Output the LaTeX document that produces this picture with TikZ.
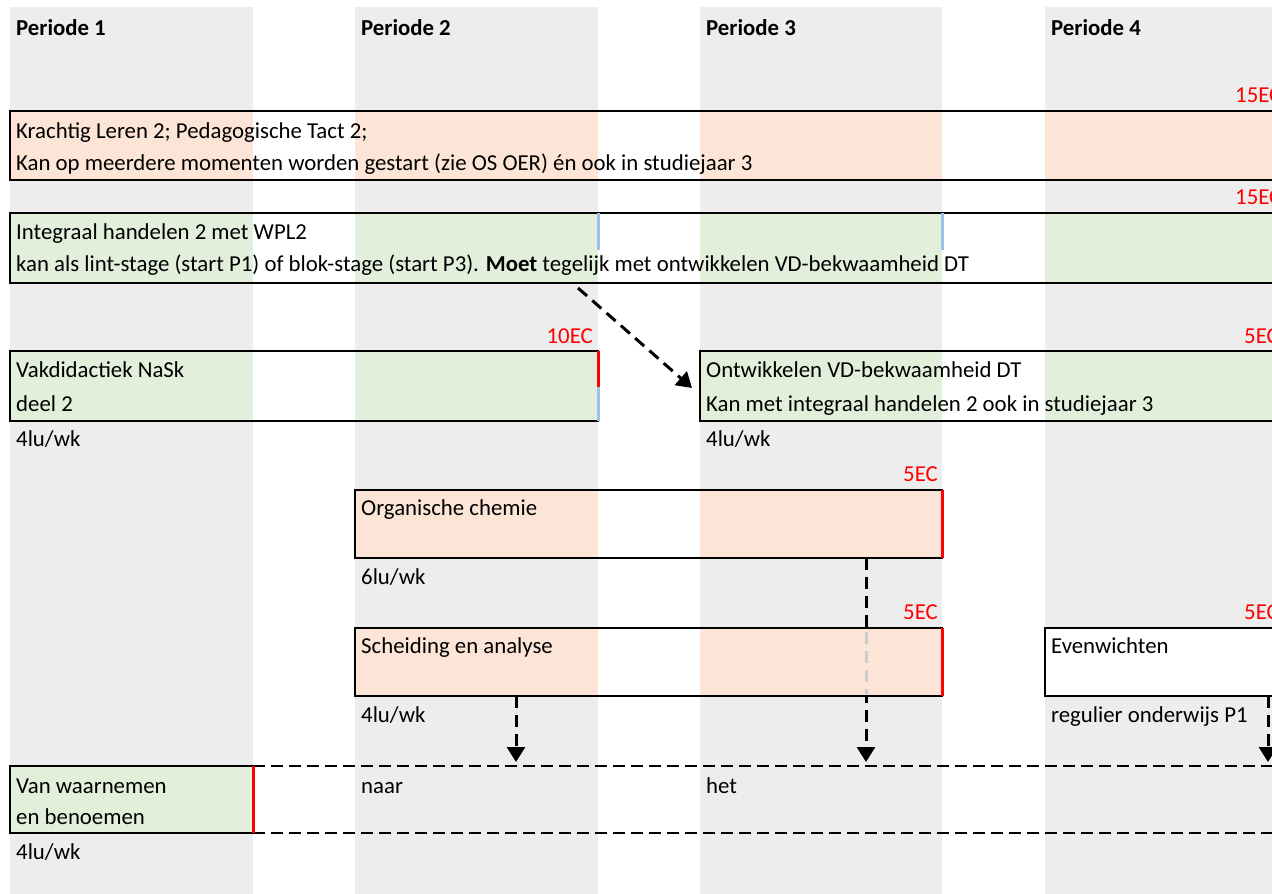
\documentclass[tikz,border=0pt]{standalone}
\usepackage{fontspec}
\setmainfont{Carlito}
\usetikzlibrary{arrows.meta,calc}
\definecolor{colgray}{HTML}{EDEDED}
\definecolor{peach}{HTML}{FCE4D6}
\definecolor{lgreen}{HTML}{E2EFDA}
\definecolor{lblue}{HTML}{9DC3E6}
\definecolor{ecred}{HTML}{FF0000}
\begin{document}
\begin{tikzpicture}[x=1pt,y=-1pt,
  txt/.style={anchor=base west, inner sep=0pt, font=\fontsize{22.8}{27}\selectfont},
  head/.style={txt, font=\fontsize{22.8}{27}\selectfont\bfseries},
  ec/.style={inner sep=0pt, font=\fontsize{22.8}{27}\selectfont, text=ecred},
  cell/.style={draw=black, line width=2.4pt, anchor=north west, inner sep=0pt, outer sep=0pt},
  dasharrow/.style={line width=3pt, dash pattern=on 12pt off 7pt, -{Triangle[width=18pt,length=15pt]}},
  dashline/.style={line width=2.6pt, dash pattern=on 12pt off 6pt},
  redge/.style={line width=3pt, ecred},
  bedge/.style={line width=3pt, lblue}]
\useasboundingbox (0,0) rectangle (1272,894);
\clip (0,0) rectangle (1272,894);
\fill[white] (0,0) rectangle (1272,894);
% period columns
\fill[colgray] (10,7) rectangle (253,894);
\fill[colgray] (355,7) rectangle (598,894);
\fill[colgray] (700,7) rectangle (942,894);
\fill[colgray] (1045,7) rectangle (1300,894);
% headers
\node[head] (p1) at (16,35) {Periode 1};
\node[head] (p2) at (361,35) {Periode 2};
\node[head] (p3) at (706,35) {Periode 3};
\node[head] (p4) at (1051,35) {Periode 4};

% box fills (column parts coloured, gaps white)
\fill[peach] (10,111) rectangle (253,180);
\fill[white] (253,111) rectangle (355,180);
\fill[peach] (355,111) rectangle (598,180);
\fill[white] (598,111) rectangle (700,180);
\fill[peach] (700,111) rectangle (942,180);
\fill[white] (942,111) rectangle (1045,180);
\fill[peach] (1045,111) rectangle (1300,180);

\fill[lgreen] (10,213) rectangle (253,283);
\fill[white] (253,213) rectangle (355,283);
\fill[lgreen] (355,213) rectangle (598,283);
\fill[white] (598,213) rectangle (700,283);
\fill[lgreen] (700,213) rectangle (942,283);
\fill[white] (942,213) rectangle (1045,283);
\fill[lgreen] (1045,213) rectangle (1300,283);

\fill[lgreen] (10,351) rectangle (253,421);
\fill[white] (253,351) rectangle (355,421);
\fill[lgreen] (355,351) rectangle (598,421);

\fill[lgreen] (700,351) rectangle (942,421);
\fill[white] (942,351) rectangle (1045,421);
\fill[lgreen] (1045,351) rectangle (1300,421);

\fill[peach] (355,490) rectangle (598,558);
\fill[white] (598,490) rectangle (700,558);
\fill[peach] (700,490) rectangle (942,558);

\fill[white] (1045,628) rectangle (1300,696);

\fill[lgreen] (10,766) rectangle (253,833);

% boxes (those running past the right edge are cut by the picture border)
\node[cell, minimum width=1290pt, minimum height=69pt] (kl) at (10,111) {};
\node[cell, minimum width=1290pt, minimum height=70pt] (ih) at (10,213) {};
\node[cell, minimum width=588pt, minimum height=70pt] (vd) at (10,351) {};
\node[cell, minimum width=600pt, minimum height=70pt] (ov) at (700,351) {};
\node[cell, minimum width=587pt, minimum height=68pt] (oc) at (355,490) {};
\node[cell, minimum width=255pt, minimum height=68pt] (ev) at (1045,628) {};
\node[cell, minimum width=243pt, minimum height=67pt] (vw) at (10,766) {};

% arrow end points
\coordinate (e1) at (866,762);
\coordinate (e2) at (516,762);
\coordinate (e3) at (1268,762);
\coordinate (r1) at (1300,766);
\coordinate (r2) at (1300,833);

% connector from Organische chemie, passing behind Scheiding en analyse
\draw[dasharrow] (oc.south -| e1) -- (e1);
\fill[peach] (355,628) rectangle (598,696);
\fill[white] (598,628) rectangle (700,696);
\fill[peach] (700,628) rectangle (942,696);
\draw[line width=3pt, dash pattern=on 12pt off 7pt, black!20] (866,632) -- (866,694);
\node[cell, minimum width=587pt, minimum height=68pt] (sa) at (355,628) {};

\draw[dasharrow] ([xshift=568pt,yshift=-5pt]ih.south west) -- ([xshift=-8pt,yshift=-2pt]ov.west);
\draw[dasharrow] (sa.south -| e2) -- (e2);
\draw[dasharrow] (ev.south -| e3) -- (e3);
\draw[dashline] (vw.north east) -- (r1);
\draw[dashline] (vw.south east) -- (r2);

% coloured right edges
\draw[bedge] (598,213) -- (598,250);
\draw[bedge] (942,213) -- (942,250);
\draw[redge] (vd.north east) -- ($(vd.north east)!0.52!(vd.south east)$);
\draw[bedge] ($(vd.north east)!0.52!(vd.south east)$) -- (vd.south east);
\draw[redge] (oc.north east) -- (oc.south east);
\draw[redge] (sa.north east) -- (sa.south east);
\draw[redge] (vw.north east) -- (vw.south east);

% EC labels
\node[ec, anchor=base west] (ec1) at (1235,102) {15EC};
\node[ec, anchor=base west] (ec2) at (1235,204) {15EC};
\node[ec, anchor=base east] (ec3) at (593,343) {10EC};
\node[ec, anchor=base west] (ec4) at (1244,343) {5EC};
\node[ec, anchor=base east] (ec5) at (938,481) {5EC};
\node[ec, anchor=base east] (ec6) at (938,619) {5EC};
\node[ec, anchor=base west] (ec7) at (1244,619) {5EC};

% texts
\node[txt] (kl1) at (16,138) {Krachtig Leren 2; Pedagogische Tact 2;};
\node[txt] (kl2) at (16,170) {Kan op meerdere momenten worden gestart (zie OS OER) én ook in studiejaar 3};
\node[txt] (ih1) at (16,239) {Integraal handelen 2 met WPL2};
\node[txt] (ih2) at (16,271) {kan als lint-stage (start P1) of blok-stage (start P3). \textbf{Moet} tegelijk met ontwikkelen VD-bekwaamheid DT};
\node[txt] (vd1) at (16,377) {Vakdidactiek NaSk};
\node[txt] (vd2) at (16,411) {deel 2};
\node[txt] (vd3) at (16,446) {4lu/wk};
\node[txt] (ov1) at (706,377) {Ontwikkelen VD-bekwaamheid DT};
\node[txt] (ov2) at (706,411) {Kan met integraal handelen 2 ook in studiejaar 3};
\node[txt] (ov3) at (706,446) {4lu/wk};
\node[txt] (oc1) at (361,515) {Organische chemie};
\node[txt] (oc2) at (361,584) {6lu/wk};
\node[txt] (sa1) at (361,653) {Scheiding en analyse};
\node[txt] (sa3) at (361,722) {4lu/wk};
\node[txt] (ev1) at (1051,653) {Evenwichten};
\node[txt] (ev2) at (1051,722) {regulier onderwijs P1};
\node[txt] (vw1) at (16,793) {Van waarnemen};
\node[txt] (vw2) at (16,824) {en benoemen};
\node[txt] (vw3) at (16,859) {4lu/wk};
\node[txt] (naar) at (361,793) {naar};
\node[txt] (het) at (706,793) {het};
\end{tikzpicture}
\end{document}
